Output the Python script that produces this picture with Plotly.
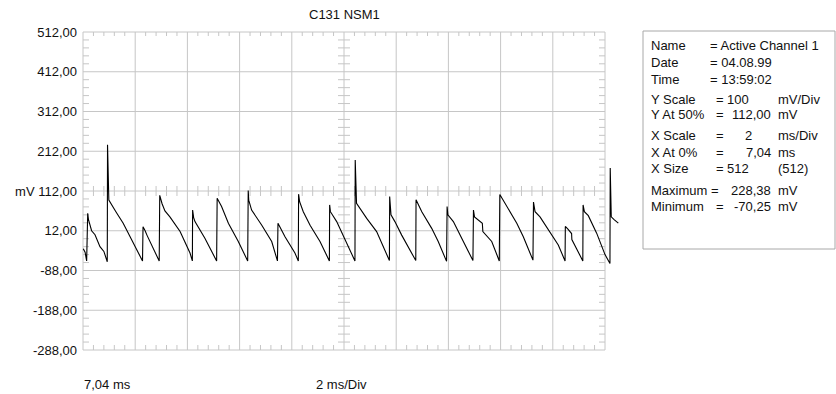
import plotly.graph_objects as go

# ---------------- data ----------------
time_ms = [7.05, 7.12, 7.18, 7.20, 7.22, 7.25, 7.29, 7.37, 7.50, 7.69, 7.84, 7.97,
           7.98, 8.00, 8.02, 8.03, 8.30, 8.58, 9.32,
           9.34, 9.42, 9.49, 9.96,
           9.98, 10.07, 10.18, 10.37, 10.76, 11.14, 11.23,
           11.24, 11.28, 11.33, 11.71, 12.16,
           12.18, 12.35, 12.61, 12.99, 13.35,
           13.37, 13.39, 13.50, 13.89, 14.27, 14.49,
           14.51, 14.59, 14.78, 15.16, 15.29,
           15.30, 15.34, 15.48, 15.74, 16.12, 16.48,
           16.49, 16.52, 16.76, 17.01, 17.46,
           17.47, 17.49, 17.52, 17.91, 18.29, 18.78,
           18.79, 18.84, 18.99, 19.25, 19.79,
           19.80, 20.02, 20.40, 20.65, 20.97,
           20.99, 21.02, 21.23, 21.55, 21.98,
           22.00, 22.04, 22.34, 22.36, 22.70, 22.99,
           23.01, 23.27, 23.66, 23.91, 24.28,
           24.30, 24.36, 24.55, 24.93, 25.25, 25.51,
           25.52, 25.62, 25.76, 25.77, 26.19,
           26.20, 26.25, 26.40, 26.72, 27.04, 27.23,
           27.24, 27.26, 27.28, 27.39, 27.55]
voltage_mv = [-33, -42, -64, -6, 56, 40, 28, 12, 2, -28, -40, -66,
              228.38, 160, 130, 89, 60, 31, -64,
              22, 12, 1, -64,
              101, 80, 62, 47, 10, -44, -64,
              64, 45, 35, -7, -64,
              94, 73, 31, -15, -64,
              113, 89, 64, 26, -15, -64,
              31, 20, -3, -44, -64,
              104, 85, 60, 26, -15, -64,
              77, 60, 35, 1, -64,
              190, 135, 81, 43, 10, -63,
              98, 52, 35, 1, -63,
              90, 60, 18, -15, -65,
              73, 52, 35, -7, -63,
              64, 47, 31, 10, -15, -64,
              103, 75, 31, -3, -62,
              84, 60, 47, 10, -24, -64,
              23, 16, 5, -10, -64,
              77, 60, 50, 6, -48, -70.25,
              170, 112, 47, 40, 31]

y_tick_vals = [512, 412, 312, 212, 112, 12, -88, -188, -288]
y_tick_text = ["512,00", "412,00", "312,00", "212,00", "mV 112,00",
               "12,00", "-88,00", "-188,00", "-288,00"]

title_text = "C131 NSM1"
x_start_label = "7,04 ms"
x_scale_label = "2 ms/Div"

info_names = ["Name", "Date", "Time", "Y Scale", "Y At 50%", "X Scale",
              "X At 0%", "X Size", "Maximum", "Minimum"]
info_values = ["= Active Channel 1", "= 04.08.99", "= 13:59:02", "100", "112,00",
               "2", "7,04", "512", "228,38", "-70,25"]
info_units = ["", "", "", "mV/Div", "mV", "ms/Div", "ms", "(512)", "mV", "mV"]

# ---------------- scope geometry ----------------
X0, X_DIV, NX = 7.04, 2.0, 10
Y0, Y_DIV, NY = -288.0, 100.0, 8
X1 = X0 + X_DIV * NX
Y1 = Y0 + Y_DIV * NY
XC = X0 + X_DIV * NX / 2
YC = Y0 + Y_DIV * NY / 2

W, H = 836, 394
GX0, GX1, GY0, GY1 = 83, 605, 32, 350      # grid frame in pixels
PX0, PX1, PY0, PY1 = 78, 622, 26, 356      # plot area in pixels
ms_per_px = (X1 - X0) / (GX1 - GX0)
mv_per_px = (Y1 - Y0) / (GY1 - GY0)
x_range = [X0 - (GX0 - PX0) * ms_per_px, X0 + (PX1 - GX0) * ms_per_px]
y_range = [Y0 - (PY1 - GY1) * mv_per_px, Y1 + (GY0 - PY0) * mv_per_px]

def xp(px):
    return (px - PX0) / (PX1 - PX0)

def yp(py):
    return (PY1 - py) / (PY1 - PY0)

# grid + minor ticks as one gray line trace
gx, gy = [], []
def seg(xa, ya, xb, yb):
    gx.extend([xa, xb, None]); gy.extend([ya, yb, None])

for i in range(NX + 1):
    seg(X0 + i * X_DIV, Y0, X0 + i * X_DIV, Y1)
for j in range(NY + 1):
    seg(X0, Y0 + j * Y_DIV, X1, Y0 + j * Y_DIV)

tly = 5 * mv_per_px
tlx = 6 * ms_per_px
for k in range(1, NX * 5):
    if k % 5:
        x = X0 + k * X_DIV / 5
        seg(x, Y1, x, Y1 - 4 * mv_per_px)
        seg(x, Y0, x, Y0 + tly)
        seg(x, YC - tly, x, YC + tly)
for m in range(1, NY * 5):
    if m % 5:
        y = Y0 + m * Y_DIV / 5
        seg(X0, y, X0 + tlx, y)
        seg(X1 - tlx, y, X1, y)
        seg(XC - tlx, y, XC + tlx, y)

fig = go.Figure()
fig.add_trace(go.Scatter(x=gx, y=gy, mode="lines",
                         line=dict(color="#c6c6c6", width=1),
                         hoverinfo="skip", showlegend=False))
fig.add_trace(go.Scatter(x=time_ms, y=voltage_mv, mode="lines",
                         line=dict(color="#000000", width=1.1),
                         showlegend=False))

FONT = "Liberation Sans, Arial, sans-serif"
TXT = "#111111"

ann = []
ann.append(dict(text=title_text, x=xp(344), y=yp(15), xanchor="center", yanchor="middle"))
ann.append(dict(text=x_start_label, x=xp(82), y=yp(384), xanchor="left", yanchor="middle"))
ann.append(dict(text=x_scale_label, x=xp(314), y=yp(384), xanchor="left", yanchor="middle"))

row_y = [45, 62, 79, 99, 115, 135, 152, 168, 190, 206]
eq_x = [None, None, None, 714, 714, 714, 714, 714, 709, 714]
val_left = [708, 708, 708, None, None, None, None, None, None, None]
val_right = [None, None, None, 751, 773, 754, 773, 751, 773, 773]
for i, name in enumerate(info_names):
    ry = yp(row_y[i])
    ann.append(dict(text=name, x=xp(649), y=ry, xanchor="left", yanchor="middle"))
    if eq_x[i] is not None:
        ann.append(dict(text="=", x=xp(eq_x[i]), y=ry, xanchor="left", yanchor="middle"))
    if val_left[i] is not None:
        ann.append(dict(text=info_values[i], x=xp(val_left[i]), y=ry, xanchor="left", yanchor="middle"))
    else:
        ann.append(dict(text=info_values[i], x=xp(val_right[i]), y=ry, xanchor="right", yanchor="middle"))
    if info_units[i]:
        ann.append(dict(text=info_units[i], x=xp(776), y=ry, xanchor="left", yanchor="middle"))

for a in ann:
    a.update(xref="paper", yref="paper", showarrow=False,
             font=dict(family=FONT, size=13, color=TXT))

fig.update_layout(
    width=W, height=H,
    margin=dict(l=PX0, r=W - PX1, t=PY0, b=H - PY1, pad=0),
    paper_bgcolor="white", plot_bgcolor="white",
    xaxis=dict(range=x_range, showgrid=False, zeroline=False, showline=False,
               showticklabels=False, ticks="", fixedrange=True),
    yaxis=dict(range=y_range, showgrid=False, zeroline=False, showline=False,
               tickmode="array", tickvals=y_tick_vals, ticktext=y_tick_text,
               ticks="", tickfont=dict(family=FONT, size=13, color=TXT),
               fixedrange=True),
    annotations=ann,
    shapes=[dict(type="rect", xref="paper", yref="paper",
                 x0=xp(643), x1=xp(835), y0=yp(249), y1=yp(31),
                 line=dict(color="#a8a8a8", width=1), fillcolor="rgba(0,0,0,0)")],
)

fig.write_html("out.html",
               config={"displayModeBar": False, "staticPlot": True},
               post_script="document.body.style.margin='0';"
                           "document.body.style.overflow='hidden';")
